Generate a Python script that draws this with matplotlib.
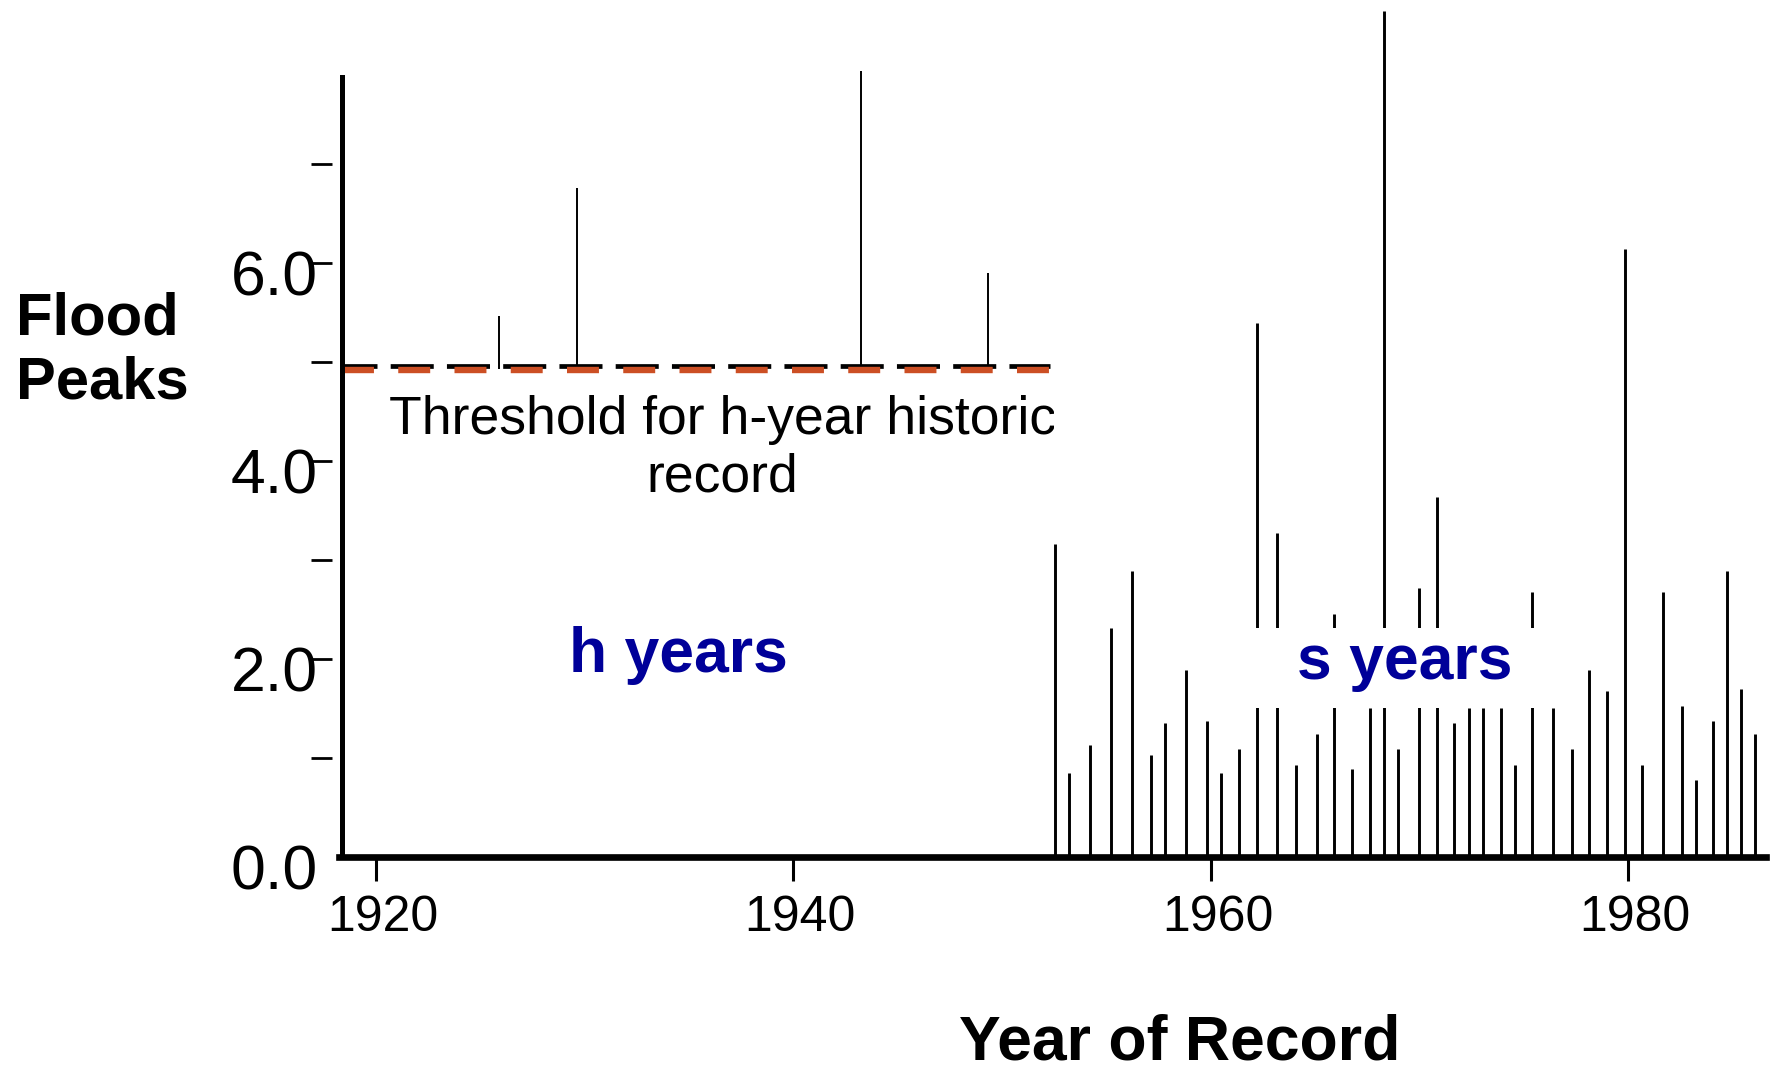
import matplotlib
matplotlib.use("Agg")
import matplotlib.pyplot as plt
import matplotlib.transforms as mtransforms
from matplotlib.patches import Rectangle

plt.rcParams['font.family'] = ['Liberation Sans', 'DejaVu Sans']
plt.rcParams['lines.scale_dashes'] = False

# systematic record (s years)
sys_years = [1952.55, 1953.21, 1954.21, 1955.22, 1956.24, 1957.12, 1957.81, 1958.81,
             1959.83, 1960.47, 1961.35, 1962.20, 1963.19, 1964.07, 1965.07, 1965.90,
             1966.78, 1967.61, 1968.30, 1968.95, 1969.98, 1970.85, 1971.65, 1972.36,
             1973.06, 1973.89, 1974.58, 1975.40, 1976.41, 1977.29, 1978.12, 1979.00,
             1979.85, 1980.65, 1981.67, 1982.57, 1983.24, 1984.05, 1984.75, 1985.39,
             1986.09]
sys_peaks = [3.17, 0.85, 1.14, 2.32, 2.89, 1.03, 1.36, 1.89,
             1.38, 0.85, 1.10, 5.40, 3.28, 0.93, 1.25, 2.46,
             0.89, 1.51, 8.55, 1.10, 2.72, 3.64, 1.36, 1.51,
             1.51, 1.51, 0.93, 2.68, 1.51, 1.10, 1.89, 1.68,
             6.15, 0.93, 2.68, 1.53, 0.78, 1.38, 2.89, 1.70,
             1.25]

# historic floods above the threshold (h years)
hist_years = [1925.91, 1929.65, 1943.22, 1949.31]
hist_peaks = [5.47, 6.76, 7.94, 5.90]
THRESHOLD = 4.93
THRESHOLD_END = 1952.3

y_ticks = [0, 2, 4, 6]
y_ticklabels = ['0.0', '2.0', '4.0', '6.0']
y_minor = [1, 3, 5, 7]
x_ticks = [1920, 1940, 1960, 1980]

X0, X1 = 1917.88, 1986.6
YAXIS_X = 1918.36
YMAX = 8.66
ORANGE = '#cc4f24'
NAVY = '#000099'

fig = plt.figure(figsize=(17.77, 10.74), dpi=100)
ax = fig.add_axes([0.1867, 0.2016, 0.8071, 0.7984])
ax.set_xlim(X0, X1)
ax.set_ylim(0, YMAX)

# flood peaks
ax.vlines(sys_years, 0, sys_peaks, color='black', lw=2.1, zorder=2)
ax.vlines(hist_years, THRESHOLD, hist_peaks, color='black', lw=1.4, zorder=2)

# threshold line (black + orange dashes)
ax.plot([YAXIS_X, THRESHOLD_END], [THRESHOLD + 0.035] * 2, color='black', lw=3.4,
        linestyle=(5.8, (31, 9.5)), zorder=3)
ax.plot([YAXIS_X, THRESHOLD_END], [THRESHOLD - 0.01] * 2, color=ORANGE, lw=4.6,
        linestyle=(0, (23, 17.5)), zorder=3)

t = ax.text(1936.6, 4.67, 'Threshold for h-year historic\nrecord', ha='center', va='top',
            fontsize=38.5, multialignment='center', clip_on=True)
t.set_clip_path(Rectangle((X0, 0), 1952.5 - X0, YMAX, transform=ax.transData))

# white box behind the "s years" label
ax.add_patch(Rectangle((1961.7, 1.51), 15.3, 0.81, facecolor='white', edgecolor='none', zorder=3))
ax.text(1934.47, 1.87, 'h years', ha='center', va='baseline', fontsize=45,
        fontweight='bold', color=NAVY, zorder=4)
ax.text(1969.3, 1.80, 's years', ha='center', va='baseline', fontsize=45,
        fontweight='bold', color=NAVY, zorder=4)

# axes
for s in ['top', 'right', 'left']:
    ax.spines[s].set_visible(False)
ax.spines['bottom'].set_linewidth(4.8)
ax.spines['bottom'].set_bounds(1918.25, X1)
ax.axvline(YAXIS_X, ymin=0, ymax=7.88 / YMAX, color='black', lw=3.6, clip_on=False, zorder=5)

ax.set_yticks(y_ticks)
ax.set_yticklabels(y_ticklabels)
ax.set_yticks(y_minor, minor=True)
ax.tick_params(axis='y', which='both', length=15, width=2, direction='out',
               labelsize=45, pad=-5)
ax.yaxis.get_major_ticks()[0].tick1line.set_visible(False)

ax.set_xticks(x_ticks)
ax.tick_params(axis='x', length=17, width=2.2, direction='out', labelsize=36, pad=10)

down = mtransforms.ScaledTranslation(0, -0.09, fig.dpi_scale_trans)
for lab in ax.get_yticklabels():
    lab.set_transform(lab.get_transform() + down)
right = mtransforms.ScaledTranslation(0.07, 0, fig.dpi_scale_trans)
for lab in ax.get_xticklabels():
    lab.set_transform(lab.get_transform() + right)

fig.text(16 / 1777, 1 - 351 / 1074, 'Flood\nPeaks', ha='left', va='center',
         fontsize=43, fontweight='bold')
fig.text(1180 / 1777, 15 / 1074, 'Year of Record', ha='center', va='baseline',
         fontsize=45, fontweight='bold')

fig.savefig('out.png', dpi=100)
